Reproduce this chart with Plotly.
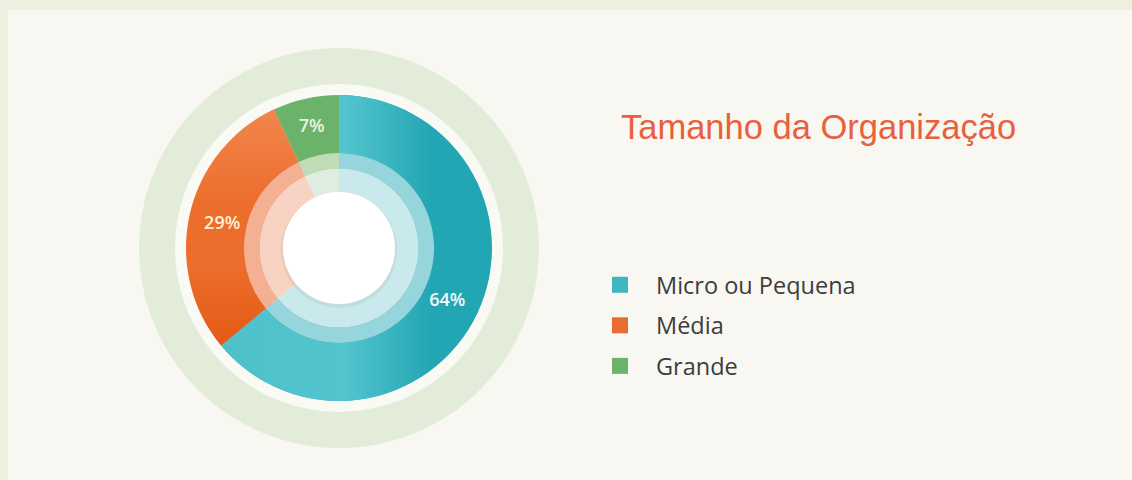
import base64
import math
import plotly.graph_objects as go

# ---- data ----
categories = ["Micro ou Pequena", "Média", "Grande"]
shares = [64, 29, 7]

# ---- styling ----
base_colors = ["#23a6b3", "#ec6d2c", "#6bb36b"]
legend_colors = ["#3cb6c1", "#ec6b30", "#6bb36b"]
mid_ring_colors = ["#96d5db", "#f4b092", "#c0dcb6"]
inner_ring_colors = ["#c9e9ec", "#f8d3c3", "#dfede0"]
label_colors = ["#f4fbfb", "#fdf0d8", "#eaf5de"]

W, H = 1132, 480
CX, CY = 339, 248          # donut centre in page pixels
R_OUT = 153                 # outer radius of the donut
R_MID = 95                  # translucent ring
R_IN = 79                   # lighter inner ring
R_CORE = 56                 # white core


def domain(r):
    return dict(x=[(CX - r) / W, (CX + r) / W],
                y=[(H - CY - r) / H, (H - CY + r) / H])


def circle(r, fill="rgba(0,0,0,0)", line_color=None, line_width=0, dy=0, layer="above"):
    return dict(type="circle", xref="paper", yref="paper",
                x0=(CX - r) / W, x1=(CX + r) / W,
                y0=(H - CY - dy - r) / H, y1=(H - CY - dy + r) / H,
                fillcolor=fill,
                line=dict(width=line_width, color=line_color or "rgba(0,0,0,0)"),
                layer=layer)


def wedge_path(a0, a1, r0, r1):
    """Annular sector, angles in degrees clockwise from 12 o'clock."""
    def pt(a, r):
        t = math.radians(a)
        return r * math.sin(t), -r * math.cos(t)
    large = 1 if (a1 - a0) > 180 else 0
    x0o, y0o = pt(a0, r1)
    x1o, y1o = pt(a1, r1)
    x1i, y1i = pt(a1, r0)
    x0i, y0i = pt(a0, r0)
    return (f"M{x0o:.2f},{y0o:.2f} A{r1},{r1} 0 {large} 1 {x1o:.2f},{y1o:.2f} "
            f"L{x1i:.2f},{y1i:.2f} A{r0},{r0} 0 {large} 0 {x0i:.2f},{y0i:.2f} Z")


# shading overlay for the outer ring, following the slice angles
total = sum(shares)
bounds = [0.0]
for v in shares:
    bounds.append(bounds[-1] + 360.0 * v / total)

R = R_OUT
svg = f"""<svg xmlns="http://www.w3.org/2000/svg" width="{2*R}" height="{2*R}" viewBox="{-R} {-R} {2*R} {2*R}">
<defs>
<linearGradient id="tealShade" gradientUnits="userSpaceOnUse" x1="{-R}" y1="0" x2="{R}" y2="0">
<stop offset="0" stop-color="#4fc1cb" stop-opacity="0.95"/>
<stop offset="0.52" stop-color="#57c7d0" stop-opacity="0.92"/>
<stop offset="0.80" stop-color="#57c7d0" stop-opacity="0"/>
<stop offset="1" stop-color="#57c7d0" stop-opacity="0"/>
</linearGradient>
<linearGradient id="orangeLight" gradientUnits="userSpaceOnUse" x1="0" y1="{-R}" x2="0" y2="{R}">
<stop offset="0" stop-color="#f28a52" stop-opacity="1"/>
<stop offset="0.36" stop-color="#f28a52" stop-opacity="0"/>
<stop offset="1" stop-color="#f28a52" stop-opacity="0"/>
</linearGradient>
<linearGradient id="orangeDark" gradientUnits="userSpaceOnUse" x1="0" y1="{-R}" x2="0" y2="{R}">
<stop offset="0" stop-color="#e55612" stop-opacity="0"/>
<stop offset="0.56" stop-color="#e55612" stop-opacity="0"/>
<stop offset="0.85" stop-color="#e55612" stop-opacity="1"/>
<stop offset="1" stop-color="#e55612" stop-opacity="1"/>
</linearGradient>
</defs>
<path d="{wedge_path(bounds[0], bounds[1], R_MID, R)}" fill="url(#tealShade)"/>
<path d="{wedge_path(bounds[1], bounds[2], R_MID, R)}" fill="url(#orangeLight)"/>
<path d="{wedge_path(bounds[1], bounds[2], R_MID, R)}" fill="url(#orangeDark)"/>
</svg>"""
svg_uri = "data:image/svg+xml;base64," + base64.b64encode(svg.encode()).decode()

fig = go.Figure()

# main donut with percentage labels
fig.add_trace(go.Pie(
    labels=categories, values=shares, sort=False, direction="clockwise",
    rotation=0, hole=0.565, domain=domain(R_OUT),
    marker=dict(colors=base_colors, line=dict(width=0)),
    texttemplate="%{percent:.0%}", textposition="inside",
    insidetextorientation="horizontal",
    insidetextfont=dict(family="Open Sans", size=18, color=label_colors, weight=600),
    showlegend=False, hoverinfo="label+percent",
))

# translucent rings inside the donut
fig.add_trace(go.Pie(
    labels=categories, values=shares, sort=False, direction="clockwise",
    rotation=0, hole=R_IN / R_MID, domain=domain(R_MID),
    marker=dict(colors=mid_ring_colors, line=dict(width=0)),
    textinfo="none", showlegend=False, hoverinfo="skip",
))
fig.add_trace(go.Pie(
    labels=categories, values=shares, sort=False, direction="clockwise",
    rotation=0, hole=R_CORE / R_IN, domain=domain(R_IN),
    marker=dict(colors=inner_ring_colors, line=dict(width=0)),
    textinfo="none", showlegend=False, hoverinfo="skip",
))

# legend entries
for name, col in zip(categories, legend_colors):
    fig.add_trace(go.Scatter(
        x=[None], y=[None], mode="markers", name=name, legendgroup=name,
        marker=dict(symbol="square", size=16, color=col),
    ))

shapes = [
    # page frame and panel
    dict(type="rect", xref="paper", yref="paper", x0=8 / W, x1=1, y0=0, y1=(H - 10) / H,
         fillcolor="#f9f7f2", line=dict(width=0), layer="below"),
    # halo around the donut
    circle(200, "#e3ecd9", layer="below"),
    circle(164, "#f9faf4", layer="below"),
    # white core with a soft shadow
    circle(R_CORE + 2, "rgba(120,120,110,0.10)", dy=2),
    circle(R_CORE, "#ffffff"),
]

fig.update_layout(
    width=W, height=H, margin=dict(l=0, r=0, t=0, b=0),
    paper_bgcolor="#eef0df", plot_bgcolor="rgba(0,0,0,0)",
    xaxis=dict(visible=False), yaxis=dict(visible=False),
    shapes=shapes,
    images=[dict(
        source=svg_uri, xref="paper", yref="paper",
        x=(CX - R) / W, y=(H - CY + R) / H, sizex=2 * R / W, sizey=2 * R / H,
        xanchor="left", yanchor="top", sizing="stretch", layer="above",
    )],
    showlegend=True,
    legend=dict(
        x=584 / W, y=(H - 263) / H, xanchor="left", yanchor="top",
        bgcolor="rgba(0,0,0,0)", borderwidth=0,
        font=dict(family="Open Sans", size=23.5, color="#3c3c3c"),
        itemwidth=62, tracegroupgap=7,
    ),
    annotations=[dict(
        text="Tamanho da Organização", x=619 / W, y=(H - 127) / H,
        xref="paper", yref="paper", xanchor="left", yanchor="middle",
        showarrow=False,
        font=dict(family="Liberation Sans", size=34.5, color="#e8603c"),
    )],
)

fig.write_html("out.html")
